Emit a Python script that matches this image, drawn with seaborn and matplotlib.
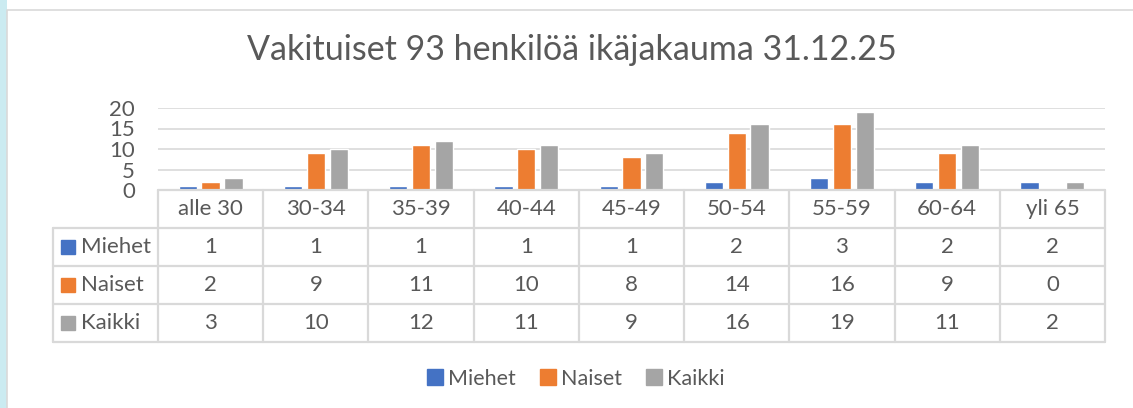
import numpy as np
import pandas as pd
import seaborn as sns
from matplotlib import pyplot as plt
from matplotlib import transforms
from matplotlib.lines import Line2D
from matplotlib.patches import Rectangle

TITLE = "Vakituiset 93 henkilöä ikäjakauma 31.12.25"
AGE_GROUPS = ["alle 30", "30-34", "35-39", "40-44", "45-49", "50-54", "55-59", "60-64", "yli 65"]
SERIES = ["Miehet", "Naiset", "Kaikki"]
MIEHET = [1, 1, 1, 1, 1, 2, 3, 2, 2]
NAISET = [2, 9, 11, 10, 8, 14, 16, 9, 0]
KAIKKI = [3, 10, 12, 11, 9, 16, 19, 11, 2]
COLORS = ["#4472C4", "#ED7D31", "#A5A5A5"]
TEXT = "#595959"
LINE = "#D9D9D9"

W, H = 1133, 408
FS = 16


def fy(py):
    # pixel row (from top) -> figure fraction
    return 1 - py / H


def main():
    sns.set_style("white")
    plt.rcParams["font.family"] = ["Lato", "DejaVu Sans"]

    df = pd.DataFrame({
        "ika": AGE_GROUPS * 3,
        "sarja": np.repeat(SERIES, len(AGE_GROUPS)),
        "lkm": MIEHET + NAISET + KAIKKI,
    })

    fig = plt.figure(figsize=(W / 100, H / 100), dpi=100)
    fig.patch.set_facecolor("white")

    # background strip and chart frame
    fig.add_artist(Rectangle((0, 0), 7 / W, 1, transform=fig.transFigure,
                             color="#CBEBF1", lw=0))
    fig.add_artist(Line2D([7 / W, 7 / W, 1], [0, fy(9.5), fy(9.5)],
                          transform=fig.transFigure, color=LINE, lw=1.2))

    ax = fig.add_axes([158 / W, fy(190), 947 / W, 82 / H])
    sns.barplot(data=df, x="ika", y="lkm", hue="sarja", palette=COLORS,
                width=0.65, gap=0.2, saturation=1, legend=False, ax=ax)
    ax.set_xlim(-0.5, len(AGE_GROUPS) - 0.5)
    ax.set_ylim(0, 20)
    ax.set_yticks([0, 5, 10, 15, 20])
    ax.yaxis.grid(True, color=LINE, lw=1.2)
    ax.set_axisbelow(True)
    ax.set_xticks([])
    ax.set_xlabel("")
    ax.set_ylabel("")
    ax.tick_params(axis="y", length=0, pad=16.5, labelsize=FS, labelcolor=TEXT)
    for s in ax.spines.values():
        s.set_visible(False)

    fig.text(0.505, fy(50), TITLE, ha="center", va="center",
             fontsize=24.5, color=TEXT)

    # data table under the bars
    tr = transforms.blended_transform_factory(ax.transData, fig.transFigure)
    n = len(AGE_GROUPS)
    rows = [190, 228, 266, 304, 342]
    kw = dict(transform=tr, color=LINE, lw=1.6, clip_on=False)
    ax.add_line(Line2D([-0.5, n - 0.5], [fy(190)] * 2, **kw))
    for r in rows[1:]:
        ax.add_line(Line2D([-1.5, n - 0.5], [fy(r)] * 2, **kw))
    ax.add_line(Line2D([-1.5, -1.5], [fy(228), fy(342)], **kw))
    for k in range(n + 1):
        ax.add_line(Line2D([k - 0.5] * 2, [fy(190), fy(342)], **kw))

    for i, g in enumerate(AGE_GROUPS):
        ax.text(i, fy(209), g, transform=tr, ha="center", va="center",
                fontsize=FS, color=TEXT)
    for j, (name, vals) in enumerate(zip(SERIES, [MIEHET, NAISET, KAIKKI])):
        yc = fy((rows[j + 1] + rows[j + 2]) / 2)
        ax.add_patch(Rectangle((-1.42, yc - 7 / H), 0.133, 14 / H,
                               transform=tr, color=COLORS[j], clip_on=False))
        ax.text(-1.235, yc, name, transform=tr, ha="left", va="center",
                fontsize=FS, color=TEXT)
        for i, v in enumerate(vals):
            ax.text(i, yc, str(v), transform=tr, ha="center", va="center",
                    fontsize=FS, color=TEXT)

    handles = [Line2D([], [], marker="s", ls="", markersize=11,
                      markerfacecolor=c, markeredgecolor=c) for c in COLORS]
    fig.legend(handles, SERIES, loc="center", bbox_to_anchor=(0.507, fy(379)),
               ncol=3, frameon=False, fontsize=15.5, labelcolor=TEXT,
               handletextpad=0.1, columnspacing=1.0, handlelength=1.0)

    fig.savefig("out.png", dpi=100)


if __name__ == "__main__":
    main()
